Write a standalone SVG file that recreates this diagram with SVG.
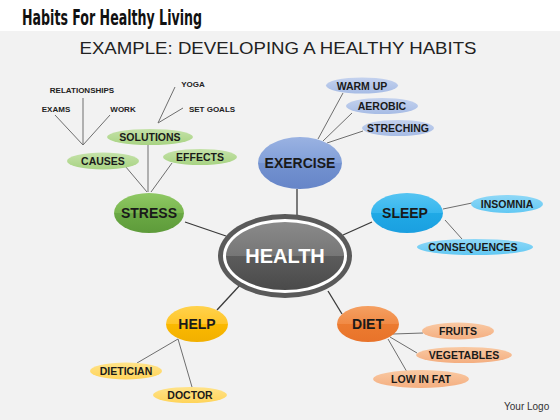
<svg xmlns="http://www.w3.org/2000/svg" width="560" height="420" viewBox="0 0 560 420">
<defs>
<linearGradient id="gGreen" x1="0" y1="0" x2="0" y2="1"><stop offset="0" stop-color="#8fc864"/><stop offset="0.5" stop-color="#79b64f"/><stop offset="0.5" stop-color="#6aa944"/><stop offset="1" stop-color="#5e9b3a"/></linearGradient>
<linearGradient id="gBlue" x1="0" y1="0" x2="0" y2="1"><stop offset="0" stop-color="#9ab2e2"/><stop offset="0.5" stop-color="#819fd8"/><stop offset="0.5" stop-color="#7392d0"/><stop offset="1" stop-color="#6685c8"/></linearGradient>
<linearGradient id="gCyan" x1="0" y1="0" x2="0" y2="1"><stop offset="0" stop-color="#55c4f2"/><stop offset="0.5" stop-color="#36b6ee"/><stop offset="0.5" stop-color="#20a9e6"/><stop offset="1" stop-color="#1a9fe0"/></linearGradient>
<linearGradient id="gYellow" x1="0" y1="0" x2="0" y2="1"><stop offset="0" stop-color="#ffd24d"/><stop offset="0.5" stop-color="#ffc528"/><stop offset="0.5" stop-color="#fbb900"/><stop offset="1" stop-color="#f2b000"/></linearGradient>
<linearGradient id="gOrange" x1="0" y1="0" x2="0" y2="1"><stop offset="0" stop-color="#f5a062"/><stop offset="0.5" stop-color="#f18a45"/><stop offset="0.5" stop-color="#ec7b30"/><stop offset="1" stop-color="#e8732a"/></linearGradient>
<linearGradient id="gGray" x1="0" y1="0" x2="0" y2="1"><stop offset="0" stop-color="#8a8a8a"/><stop offset="0.5" stop-color="#767676"/><stop offset="0.5" stop-color="#5c5c5c"/><stop offset="1" stop-color="#4a4a4a"/></linearGradient>
<linearGradient id="lGreen" x1="0" y1="0" x2="0" y2="1"><stop offset="0" stop-color="#c5e2a9"/><stop offset="1" stop-color="#a8d383"/></linearGradient>
<linearGradient id="lBlue" x1="0" y1="0" x2="0" y2="1"><stop offset="0" stop-color="#c4d2ee"/><stop offset="1" stop-color="#a7bce5"/></linearGradient>
<linearGradient id="lCyan" x1="0" y1="0" x2="0" y2="1"><stop offset="0" stop-color="#8fd8f7"/><stop offset="1" stop-color="#62c8f3"/></linearGradient>
<linearGradient id="lYellow" x1="0" y1="0" x2="0" y2="1"><stop offset="0" stop-color="#ffe38a"/><stop offset="1" stop-color="#ffd45a"/></linearGradient>
<linearGradient id="lOrange" x1="0" y1="0" x2="0" y2="1"><stop offset="0" stop-color="#f9c9a3"/><stop offset="1" stop-color="#f4ae80"/></linearGradient>
</defs>
<style>
.main{font-family:"Liberation Sans",Arial,sans-serif;font-weight:bold;font-size:14px;fill:#1a1a1a;text-anchor:middle}
.sub{font-family:"Liberation Sans",Arial,sans-serif;font-weight:bold;font-size:10.5px;fill:#1a1a1a;text-anchor:middle}
.leaf{font-family:"Liberation Sans",Arial,sans-serif;font-weight:bold;font-size:8px;fill:#222;text-anchor:middle}
.ln{stroke:#6e6e6e;stroke-width:1;fill:none}
.hl{stroke:#3a3a3a;stroke-width:1.3;fill:none}
</style>
<rect width="560" height="420" fill="#f2f2f2"/>
<rect width="560" height="31" fill="#ffffff"/>
<text x="22" y="25" font-family="Liberation Sans Narrow,DejaVu Sans Condensed,sans-serif" font-weight="bold" font-size="21" fill="#111" textLength="180" lengthAdjust="spacingAndGlyphs">Habits For Healthy Living</text>
<text x="278" y="54" font-family="Liberation Sans,Arial,sans-serif" font-size="17" fill="#222" text-anchor="middle" textLength="397" lengthAdjust="spacingAndGlyphs">EXAMPLE: DEVELOPING A HEALTHY HABITS</text>

<g id="connectors">
<line class="hl" x1="185" y1="222" x2="226" y2="236"/>
<line class="hl" x1="297" y1="189" x2="297" y2="215"/>
<line class="hl" x1="372" y1="222" x2="343" y2="235"/>
<line class="hl" x1="217" y1="310" x2="241" y2="284"/>
<line class="hl" x1="342" y1="314" x2="328" y2="291"/>
<line class="ln" x1="120" y1="160" x2="147" y2="192"/>
<line class="ln" x1="148" y1="145" x2="148" y2="192"/>
<line class="ln" x1="172" y1="163" x2="151" y2="192"/>
<line class="ln" x1="55" y1="115" x2="83" y2="145"/>
<line class="ln" x1="83" y1="98" x2="83" y2="145"/>
<line class="ln" x1="110" y1="115" x2="83" y2="145"/>
<line class="ln" x1="175" y1="87" x2="158" y2="123"/>
<line class="ln" x1="183" y1="108" x2="158" y2="123"/>
<line class="ln" x1="343" y1="93" x2="318" y2="139"/>
<line class="ln" x1="352" y1="113" x2="323" y2="141"/>
<line class="ln" x1="363" y1="131" x2="327" y2="143"/>
<line class="ln" x1="443" y1="209" x2="472" y2="203"/>
<line class="ln" x1="445" y1="220" x2="462" y2="239"/>
<line class="ln" x1="178" y1="339" x2="137" y2="363"/>
<line class="ln" x1="178" y1="339" x2="192" y2="387"/>
<line class="ln" x1="393" y1="334" x2="423" y2="333"/>
<line class="ln" x1="390" y1="337" x2="417" y2="353"/>
<line class="ln" x1="388" y1="339" x2="407" y2="372"/>
</g>

<g id="health">
<ellipse cx="285" cy="256" rx="67" ry="42" fill="#5a5a5a"/>
<ellipse cx="285" cy="256" rx="62" ry="37" fill="#ffffff"/>
<ellipse cx="285" cy="256" rx="59" ry="34" fill="url(#gGray)"/>
<text x="285" y="263" font-family="Liberation Sans,Arial,sans-serif" font-weight="bold" font-size="20" fill="#ffffff" text-anchor="middle">HEALTH</text>
</g>

<g id="stress">
<ellipse cx="149" cy="213" rx="35" ry="20" fill="url(#gGreen)"/>
<text class="main" x="149" y="218">STRESS</text>
</g>
<g id="causes"><ellipse cx="103" cy="161" rx="36" ry="8.5" fill="url(#lGreen)"/><text class="sub" x="103" y="165">CAUSES</text></g>
<g id="solutions"><ellipse cx="150" cy="137" rx="43" ry="8" fill="url(#lGreen)"/><text class="sub" x="150" y="141">SOLUTIONS</text></g>
<g id="effects"><ellipse cx="200" cy="157" rx="37" ry="8" fill="url(#lGreen)"/><text class="sub" x="200" y="161">EFFECTS</text></g>
<g id="relationships"><text class="leaf" x="82" y="93">RELATIONSHIPS</text></g>
<g id="exams"><text class="leaf" x="56" y="112">EXAMS</text></g>
<g id="work"><text class="leaf" x="123" y="112">WORK</text></g>
<g id="yoga"><text class="leaf" x="193" y="87">YOGA</text></g>
<g id="setgoals"><text class="leaf" x="212" y="112">SET GOALS</text></g>

<g id="exercise">
<ellipse cx="300" cy="163" rx="42" ry="26" fill="url(#gBlue)"/>
<text class="main" x="300" y="168">EXERCISE</text>
</g>
<g id="warmup"><ellipse cx="362" cy="85.5" rx="36" ry="8" fill="url(#lBlue)"/><text class="sub" x="362" y="89.5">WARM UP</text></g>
<g id="aerobic"><ellipse cx="382" cy="106" rx="36" ry="8" fill="url(#lBlue)"/><text class="sub" x="382" y="110">AEROBIC</text></g>
<g id="streching"><ellipse cx="398" cy="128" rx="36" ry="8" fill="url(#lBlue)"/><text class="sub" x="398" y="132">STRECHING</text></g>

<g id="sleep">
<ellipse cx="407" cy="213" rx="36" ry="20" fill="url(#gCyan)"/>
<text class="main" x="405" y="218">SLEEP</text>
</g>
<g id="insomnia"><ellipse cx="507" cy="204" rx="36" ry="9" fill="url(#lCyan)"/><text class="sub" x="507" y="208">INSOMNIA</text></g>
<g id="consequences"><ellipse cx="475" cy="247" rx="58" ry="8" fill="url(#lCyan)"/><text class="sub" x="473" y="251">CONSEQUENCES</text></g>

<g id="help">
<ellipse cx="197" cy="324" rx="31" ry="18" fill="url(#gYellow)"/>
<text class="main" x="197" y="329">HELP</text>
</g>
<g id="dietician"><ellipse cx="126" cy="371" rx="36" ry="8.5" fill="url(#lYellow)"/><text class="sub" x="126" y="375">DIETICIAN</text></g>
<g id="doctor"><ellipse cx="190" cy="395" rx="37" ry="8" fill="url(#lYellow)"/><text class="sub" x="190" y="399">DOCTOR</text></g>

<g id="diet">
<ellipse cx="368" cy="324" rx="31" ry="18" fill="url(#gOrange)"/>
<text class="main" x="368" y="329">DIET</text>
</g>
<g id="fruits"><ellipse cx="458" cy="331" rx="36" ry="8.5" fill="url(#lOrange)"/><text class="sub" x="458" y="335">FRUITS</text></g>
<g id="vegetables"><ellipse cx="464" cy="355" rx="48" ry="8" fill="url(#lOrange)"/><text class="sub" x="464" y="359">VEGETABLES</text></g>
<g id="lowinfat"><ellipse cx="421" cy="379" rx="48" ry="9" fill="url(#lOrange)"/><text class="sub" x="421" y="383">LOW IN FAT</text></g>

<text x="504" y="410" font-family="Liberation Sans,Arial,sans-serif" font-size="10" fill="#333">Your Logo</text>
</svg>
